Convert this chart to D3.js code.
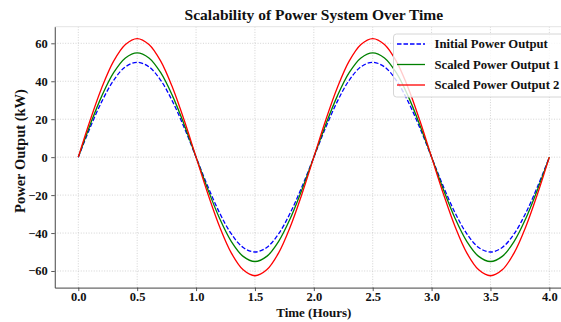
<!DOCTYPE html>
<html>
<head>
<meta charset="utf-8">
<script src="https://cdn.jsdelivr.net/npm/d3@7"></script>
<style>
  body { margin: 0; background: #fff; }
  svg { display: block; font-family: "Liberation Serif", "Times New Roman", serif; }
</style>
</head>
<body>
<svg></svg>
<script>
const width = 561;
const height = 322;

// time axis (hours)
const hours = [0.0, 0.1, 0.2, 0.3, 0.4, 0.5, 0.6, 0.7, 0.8, 0.9,
  1.0, 1.1, 1.2, 1.3, 1.4, 1.5, 1.6, 1.7, 1.8, 1.9,
  2.0, 2.1, 2.2, 2.3, 2.4, 2.5, 2.6, 2.7, 2.8, 2.9,
  3.0, 3.1, 3.2, 3.3, 3.4, 3.5, 3.6, 3.7, 3.8, 3.9, 4.0];

const initialOutput = [0, 15.5, 29.4, 40.5, 47.6, 50, 47.6, 40.5, 29.4, 15.5,
  0, -15.5, -29.4, -40.5, -47.6, -50, -47.6, -40.5, -29.4, -15.5,
  0, 15.5, 29.4, 40.5, 47.6, 50, 47.6, 40.5, 29.4, 15.5,
  0, -15.5, -29.4, -40.5, -47.6, -50, -47.6, -40.5, -29.4, -15.5, 0];

const scaledOutput1 = [0, 17.0, 32.3, 44.5, 52.3, 55, 52.3, 44.5, 32.3, 17.0,
  0, -17.0, -32.3, -44.5, -52.3, -55, -52.3, -44.5, -32.3, -17.0,
  0, 17.0, 32.3, 44.5, 52.3, 55, 52.3, 44.5, 32.3, 17.0,
  0, -17.0, -32.3, -44.5, -52.3, -55, -52.3, -44.5, -32.3, -17.0, 0];

const scaledOutput2 = [0, 19.3, 36.7, 50.6, 59.4, 62.5, 59.4, 50.6, 36.7, 19.3,
  0, -19.3, -36.7, -50.6, -59.4, -62.5, -59.4, -50.6, -36.7, -19.3,
  0, 19.3, 36.7, 50.6, 59.4, 62.5, 59.4, 50.6, 36.7, 19.3,
  0, -19.3, -36.7, -50.6, -59.4, -62.5, -59.4, -50.6, -36.7, -19.3, 0];

const seriesNames = ['Initial Power Output', 'Scaled Power Output 1', 'Scaled Power Output 2'];
const xTicks = [0, 0.5, 1.0, 1.5, 2.0, 2.5, 3.0, 3.5, 4.0];
const yTicks = [-60, -40, -20, 0, 20, 40, 60];

const series = [
  {name: seriesNames[0], values: initialOutput, color: '#0000ff', dash: '4.5,2'},
  {name: seriesNames[1], values: scaledOutput1, color: '#008000', dash: null},
  {name: seriesNames[2], values: scaledOutput2, color: '#ff0000', dash: null}
];

const plot = {left: 54.75, right: 572.9, top: 26.7, bottom: 287.6};

const svg = d3.select('svg')
  .attr('width', width)
  .attr('height', height);

const xPad = (d3.max(hours) - d3.min(hours)) * 0.05;
const xScale = d3.scaleLinear()
  .domain([d3.min(hours) - xPad, d3.max(hours) + xPad])
  .range([plot.left, plot.right]);

const yMax = d3.max(scaledOutput2), yMin = d3.min(scaledOutput2);
const yPad = (yMax - yMin) * 0.05;
const yScale = d3.scaleLinear()
  .domain([yMin - yPad, yMax + yPad])
  .range([plot.bottom, plot.top]);

// grid
const grid = svg.append('g')
  .attr('stroke', '#c8c8c8')
  .attr('stroke-width', 0.8)
  .attr('stroke-dasharray', '1,1.6');
grid.selectAll('.gx').data(xTicks).enter().append('line')
  .attr('x1', d => xScale(d)).attr('x2', d => xScale(d))
  .attr('y1', plot.top).attr('y2', plot.bottom);
grid.selectAll('.gy').data(yTicks).enter().append('line')
  .attr('x1', plot.left).attr('x2', plot.right)
  .attr('y1', d => yScale(d)).attr('y2', d => yScale(d));

// faint top spine
svg.append('line')
  .attr('x1', plot.left).attr('x2', plot.right)
  .attr('y1', plot.top).attr('y2', plot.top)
  .attr('stroke', '#e4e4e4').attr('stroke-width', 1);

// lines
const line = d3.line()
  .x((d, i) => xScale(hours[i]))
  .y(d => yScale(d))
  .curve(d3.curveCatmullRom);

svg.append('g').selectAll('path').data(series).enter().append('path')
  .attr('d', d => line(d.values))
  .attr('fill', 'none')
  .attr('stroke', d => d.color)
  .attr('stroke-width', 1.3)
  .attr('stroke-dasharray', d => d.dash);

// axes
const xAxis = svg.append('g')
  .attr('transform', `translate(0,${plot.bottom})`)
  .call(d3.axisBottom(xScale).tickValues(xTicks).tickFormat(d3.format('.1f')).tickSizeInner(3.5).tickSizeOuter(0));
const yAxis = svg.append('g')
  .attr('transform', `translate(${plot.left},0)`)
  .call(d3.axisLeft(yScale).tickValues(yTicks).tickFormat(d => d < 0 ? '\u2212' + Math.abs(d) : d).tickSizeInner(3.5).tickSizeOuter(0));

[xAxis, yAxis].forEach(ax => {
  ax.select('.domain').attr('stroke', '#444').attr('stroke-width', 1);
  ax.selectAll('.tick line').attr('stroke', '#444').attr('stroke-width', 0.9);
  ax.selectAll('.tick text')
    .attr('fill', '#111')
    .style('font-family', '"Liberation Serif", serif')
    .style('font-weight', 'bold')
    .style('font-size', '12.5px');
});
xAxis.selectAll('.tick text').attr('dy', '0.71em').attr('y', 5);
yAxis.selectAll('.tick text').attr('x', -7);

// title and labels
svg.append('text')
  .attr('x', (plot.left + plot.right) / 2)
  .attr('y', 20)
  .attr('text-anchor', 'middle')
  .style('font-weight', 'bold')
  .style('font-size', '15.5px')
  .attr('fill', '#111')
  .text('Scalability of Power System Over Time');

svg.append('text')
  .attr('x', (plot.left + plot.right) / 2)
  .attr('y', 317)
  .attr('text-anchor', 'middle')
  .style('font-weight', 'bold')
  .style('font-size', '13px')
  .attr('fill', '#111')
  .text('Time (Hours)');

svg.append('text')
  .attr('transform', 'translate(24.5,151) rotate(-90)')
  .attr('text-anchor', 'middle')
  .style('font-weight', 'bold')
  .style('font-size', '14.5px')
  .attr('fill', '#111')
  .text('Power Output (kW)');

// legend
const legend = svg.append('g').attr('transform', 'translate(393.5,34)');
legend.append('rect')
  .attr('width', 190).attr('height', 63)
  .attr('rx', 3)
  .attr('fill', '#fff').attr('fill-opacity', 0.8)
  .attr('stroke', '#d6d6d6').attr('stroke-width', 1);

const item = legend.selectAll('.item').data(series).enter().append('g')
  .attr('transform', (d, i) => `translate(0,${10 + i * 20.5})`);
item.append('line')
  .attr('x1', 3.5).attr('x2', 31.5)
  .attr('stroke', d => d.color)
  .attr('stroke-width', 1.3)
  .attr('stroke-dasharray', d => d.dash);
item.append('text')
  .attr('x', 41)
  .attr('dy', '0.35em')
  .style('font-weight', 'bold')
  .style('font-size', '12.7px')
  .attr('fill', '#111')
  .text(d => d.name);
</script>
</body>
</html>
